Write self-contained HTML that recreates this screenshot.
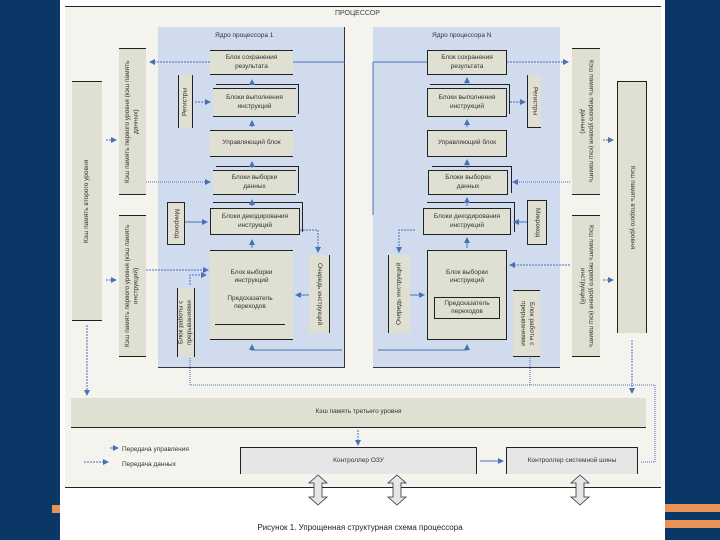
<!DOCTYPE html>
<html><head><meta charset="utf-8"><style>
body{margin:0;width:720px;height:540px;background:#0a3766;position:relative;overflow:hidden;font-family:"Liberation Sans",sans-serif;}
.a{position:absolute;box-sizing:border-box;}
.b{position:absolute;box-sizing:border-box;background:#e0e0d2;border-top:1px solid #222;border-bottom:1px solid #222;font-size:6.5px;color:#333;display:flex;align-items:center;justify-content:center;text-align:center;line-height:1.3;}
.bx{border:1px solid #222;}
.v{writing-mode:vertical-rl;}
.vu{writing-mode:vertical-rl;transform:rotate(180deg);}
.sh{position:absolute;box-sizing:border-box;border-top:1px solid #222;border-right:1px solid #222;}
</style></head><body>
<div class="a" style="left:52px;top:505px;width:10px;height:8px;background:#e8925a"></div>
<div class="a" style="left:665px;top:504px;width:55px;height:8px;background:#e8925a"></div>
<div class="a" style="left:665px;top:520px;width:55px;height:8px;background:#e8925a"></div>
<div class="a" style="left:60px;top:0;width:605px;height:540px;background:#fff"></div>
<div class="a" style="left:65px;top:6px;width:596px;height:295px;background:#f4f3ee;border-top:1px solid #222;height:482px;border-bottom:1px solid #222"></div>
<div class="a" style="left:335px;top:10px;font-size:7px;color:#444">ПРОЦЕССОР</div>
<div class="a" style="left:158px;top:27px;width:187px;height:341px;background:#d0dbee;border-right:1px solid #333;border-bottom:1px solid #333"></div>
<div class="a" style="left:373px;top:27px;width:187px;height:341px;background:#d0dbee;border-bottom:1px solid #333"></div>
<div class="a" style="left:215px;top:32px;font-size:6.5px;color:#333">Ядро процессора 1</div>
<div class="a" style="left:432px;top:32px;font-size:6.5px;color:#333">Ядро процессора N</div>

<!-- core 1 -->
<div class="b" style="left:210px;top:50px;width:83px;height:25px">Блок сохранения<br>результата</div>
<div class="sh" style="left:216px;top:84px;width:83px;height:30px"></div>
<div class="b" style="left:213px;top:88px;width:83px;height:29px">Блоки выполнения<br>инструкций</div>
<div class="b" style="left:210px;top:130px;width:83px;height:27px">Управляющий блок</div>
<div class="sh" style="left:216px;top:166px;width:83px;height:27px"></div>
<div class="b" style="left:213px;top:170px;width:83px;height:25px">Блоки выборки<br>данных</div>
<div class="sh" style="left:213px;top:202px;width:90px;height:30px"></div>
<div class="b bx" style="left:210px;top:208px;width:90px;height:27px">Блоки декодирования<br>инструкций</div>
<div class="b" style="left:210px;top:250px;width:83px;height:90px;align-items:flex-start;padding-top:18px">Блок выборки<br>инструкций</div>
<div class="a" style="left:215px;top:295px;width:70px;height:30px;border-bottom:1px solid #222;font-size:6.5px;color:#333;text-align:center;line-height:1.3">Предсказатель<br>переходов</div>
<div class="b vu" style="left:178px;top:75px;width:15px;height:53px;border:none;border-left:1px solid #222;border-right:1px solid #222">Регистры</div>
<div class="b bx v" style="left:167px;top:202px;width:18px;height:43px">Микрокод</div>
<div class="b v" style="left:309px;top:255px;width:21px;height:78px;border:none;border-right:1px solid #222">Очередь инструкций</div>
<div class="b vu" style="left:177px;top:288px;width:18px;height:69px;border:none;border-left:1px solid #222;border-right:1px solid #222">Блок работы с прерываниями</div>

<!-- core N -->
<div class="b bx" style="left:427px;top:50px;width:80px;height:25px">Блок сохранения<br>результата</div>
<div class="sh" style="left:430px;top:84px;width:80px;height:30px"></div>
<div class="b bx" style="left:427px;top:88px;width:80px;height:29px">Блоки выполнения<br>инструкций</div>
<div class="b bx" style="left:427px;top:130px;width:80px;height:27px">Управляющий блок</div>
<div class="sh" style="left:432px;top:166px;width:80px;height:27px"></div>
<div class="b bx" style="left:428px;top:170px;width:80px;height:25px">Блоки выборки<br>данных</div>
<div class="sh" style="left:427px;top:202px;width:88px;height:30px"></div>
<div class="b bx" style="left:423px;top:208px;width:88px;height:27px">Блоки декодирования<br>инструкций</div>
<div class="b bx" style="left:427px;top:250px;width:80px;height:90px;align-items:flex-start;padding-top:18px">Блок выборки<br>инструкций</div>
<div class="b bx" style="left:434px;top:297px;width:66px;height:22px">Предсказатель<br>переходов</div>
<div class="b v" style="left:527px;top:75px;width:14px;height:53px;border:none;border-left:1px solid #222;border-bottom:1px solid #222">Регистры</div>
<div class="b bx v" style="left:527px;top:200px;width:20px;height:45px">Микрокод</div>
<div class="b vu" style="left:388px;top:255px;width:22px;height:78px;border:none;border-right:1px solid #222">Очередь инструкций</div>
<div class="b v" style="left:513px;top:290px;width:27px;height:67px">Блок работы с прерываниями</div>

<!-- caches -->
<div class="b vu" style="left:72px;top:81px;width:30px;height:240px;border:none;border-top:1px solid #222;border-bottom:1px solid #222">Кэш память второго уровня</div>
<div class="b vu" style="left:119px;top:48px;width:27px;height:147px">Кэш память первого уровня (кэш память данных)</div>
<div class="b vu" style="left:119px;top:215px;width:27px;height:142px">Кэш память первого уровня (кэш память инструкций)</div>
<div class="b v" style="left:572px;top:48px;width:28px;height:147px">Кэш память первого уровня (кэш память данных)</div>
<div class="b v" style="left:572px;top:215px;width:28px;height:142px">Кэш память первого уровня (кэш память инструкций)</div>
<div class="b v" style="left:617px;top:81px;width:30px;height:252px;border:1px solid #222;border-bottom:none">Кэш память второго уровня</div>
<div class="b" style="left:71px;top:398px;width:575px;height:30px;border:none;border-bottom:1px solid #222">Кэш память третьего уровня</div>
<div class="b" style="left:240px;top:447px;width:237px;height:27px;background:#e6e6e6;border:none;border-left:1px solid #222;border-right:1px solid #222;border-top:1px solid #222">Контроллер ОЗУ</div>
<div class="b" style="left:506px;top:447px;width:132px;height:27px;background:#e6e6e6;border:none;border-left:1px solid #222;border-right:1px solid #222;border-top:1px solid #222">Контроллер системной шины</div>
<div class="a" style="left:122px;top:446px;font-size:6.5px;color:#333">Передача управления</div>
<div class="a" style="left:122px;top:461px;font-size:6.5px;color:#333">Передача данных</div>
<div class="a" style="left:0;width:720px;top:523px;text-align:center;font-size:8px;color:#222;padding-left:0">Рисунок 1. Упрощенная структурная схема процессора</div>

<svg class="a" style="left:0;top:0" width="720" height="540">
<defs><marker id="m" markerWidth="6" markerHeight="6" refX="5" refY="3" orient="auto"><path d="M0,0L6,3L0,6z" fill="#4a70b8"/></marker></defs>
<g stroke="#4a70b8" stroke-width="1" fill="none">
<path d="M210 62H150" stroke-dasharray="2,1" marker-end="url(#m)"/>
<path d="M293 62H345"/>
<path d="M373 62H427"/><path d="M373 62V215"/>
<path d="M507 62H568" stroke-dasharray="2,1" marker-end="url(#m)"/>
<path d="M252 85V80" marker-end="url(#m)"/><path d="M252 127V121" marker-end="url(#m)"/><path d="M252 168V162" marker-end="url(#m)"/><path d="M252 206V200" marker-end="url(#m)"/><path d="M252 248V240" marker-end="url(#m)"/>
<path d="M467 85V78" marker-end="url(#m)"/><path d="M467 127V120" marker-end="url(#m)"/><path d="M467 168V160" marker-end="url(#m)"/><path d="M467 206V198" marker-end="url(#m)"/><path d="M467 248V238" marker-end="url(#m)"/>
<path d="M195 102H210" stroke-dasharray="2,1" marker-end="url(#m)"/>
<path d="M510 102H525" stroke-dasharray="2,1" marker-end="url(#m)"/>
<path d="M146 182H210" stroke-dasharray="1,1" marker-end="url(#m)"/>
<path d="M570 182H513" stroke-dasharray="1,1" marker-end="url(#m)"/>
<path d="M146 270H208" stroke-dasharray="2,1" marker-end="url(#m)"/>
<path d="M570 265H510" stroke-dasharray="2,1" marker-end="url(#m)"/>
<path d="M185 222H207" marker-end="url(#m)"/><path d="M527 222H514" marker-end="url(#m)"/>
<path d="M300 230H318V252" stroke-dasharray="2,1" marker-end="url(#m)"/>
<path d="M415 230H399V252" stroke-dasharray="2,1" marker-end="url(#m)"/>
<path d="M309 295H296" marker-end="url(#m)"/><path d="M410 295H424" marker-end="url(#m)"/>
<path d="M342 350H252V345" marker-end="url(#m)"/><path d="M378 350H467V345" marker-end="url(#m)"/>
<path d="M190 285V275H206" stroke-dasharray="2,1" marker-end="url(#m)"/>
<path d="M106 140H116" stroke-dasharray="2,1" marker-end="url(#m)"/>
<path d="M106 280H116" stroke-dasharray="2,1" marker-end="url(#m)"/>
<path d="M603 140H613" stroke-dasharray="2,1" marker-end="url(#m)"/>
<path d="M603 280H613" stroke-dasharray="2,1" marker-end="url(#m)"/>
<path d="M87 325V395" stroke-dasharray="2,1" marker-end="url(#m)"/>
<path d="M632 340V393" stroke-dasharray="2,1" marker-end="url(#m)"/>
<path d="M190 358V385H655V462H640" stroke-dasharray="1,1"/>
<path d="M530 358V385" stroke-dasharray="1,1"/>
<path d="M358 430V445" stroke-dasharray="2,1" marker-end="url(#m)"/>
<path d="M480 461H503" marker-end="url(#m)"/>
<path d="M84 462H108" stroke-dasharray="2,1" marker-end="url(#m)"/>
<path d="M110 448H118" marker-end="url(#m)"/>
</g>
<g fill="#e6e6e6" stroke="#333" stroke-width="0.8">
<path d="M318 475l-9 8h5v14h-5l9 8l9-8h-5v-14h5z"/>
<path d="M397 475l-9 8h5v14h-5l9 8l9-8h-5v-14h5z"/>
<path d="M580 475l-9 8h5v14h-5l9 8l9-8h-5v-14h5z"/>
</g>
</svg>
</body></html>
